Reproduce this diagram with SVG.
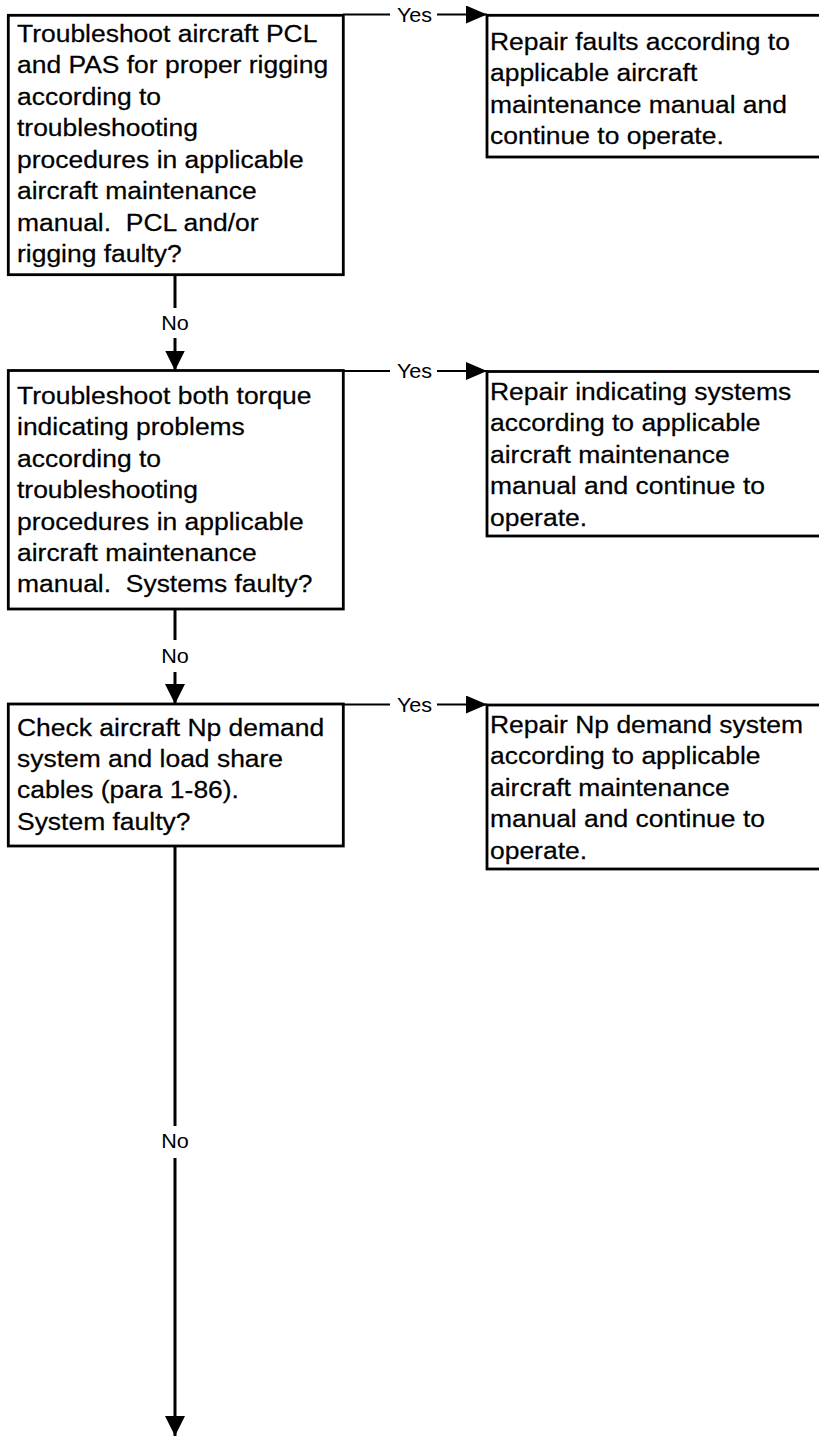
<svg xmlns="http://www.w3.org/2000/svg" width="819" height="1436" viewBox="0 0 819 1436">
  <style>
    .box { fill: #ffffff; stroke: #000000; stroke-width: 2.8; }
    .txt { font-family: "Liberation Sans", Arial, sans-serif; font-size: 24.5px; fill: #000000; stroke: #000000; stroke-width: 0.25; }
    .lbl { font-family: "Liberation Sans", Arial, sans-serif; font-size: 20px; fill: #000000; text-anchor: middle; }
    .down { stroke: #000000; stroke-width: 3; fill: none; }
    .yes { stroke: #000000; stroke-width: 2.2; fill: none; }
  </style>
  <defs>
    <marker id="arrowR" markerUnits="userSpaceOnUse" markerWidth="21" markerHeight="18" refX="21" refY="9" orient="0">
      <path d="M0,0 L21,9 L0,18 z" fill="#000000"/>
    </marker>
    <marker id="arrowD" markerUnits="userSpaceOnUse" markerWidth="20" markerHeight="20" refX="10" refY="20" orient="0">
      <path d="M0,0 L20,0 L10,20 z" fill="#000000"/>
    </marker>
  </defs>

  <rect width="819" height="1436" fill="#ffffff"/>

  <!-- connectors -->
  <g id="connectors">
    <!-- step 1 yes -->
    <path class="yes" d="M343,14.5 H390"/>
    <path class="yes" d="M437,14.5 H487" marker-end="url(#arrowR)"/>
    <text class="lbl" x="414.5" y="22" transform="translate(414.5 0) scale(1.08 1) translate(-414.5 0)">Yes</text>
    <!-- step 1 no -->
    <path class="down" d="M175,274.5 V308"/>
    <path class="down" d="M175,338 V370.5" marker-end="url(#arrowD)"/>
    <text class="lbl" x="175" y="330" transform="translate(175 0) scale(1.08 1) translate(-175 0)">No</text>

    <!-- step 2 yes -->
    <path class="yes" d="M343,371 H390"/>
    <path class="yes" d="M437,371 H487" marker-end="url(#arrowR)"/>
    <text class="lbl" x="414.5" y="378.5" transform="translate(414.5 0) scale(1.08 1) translate(-414.5 0)">Yes</text>
    <!-- step 2 no -->
    <path class="down" d="M175,609 V640"/>
    <path class="down" d="M175,672 V704" marker-end="url(#arrowD)"/>
    <text class="lbl" x="175" y="663" transform="translate(175 0) scale(1.08 1) translate(-175 0)">No</text>

    <!-- step 3 yes -->
    <path class="yes" d="M343,704.5 H390"/>
    <path class="yes" d="M437,704.5 H487" marker-end="url(#arrowR)"/>
    <text class="lbl" x="414.5" y="712" transform="translate(414.5 0) scale(1.08 1) translate(-414.5 0)">Yes</text>
    <!-- step 3 no -->
    <path class="down" d="M175,846 V1126"/>
    <path class="down" d="M175,1158 V1436" marker-end="url(#arrowD)"/>
    <text class="lbl" x="175" y="1148" transform="translate(175 0) scale(1.08 1) translate(-175 0)">No</text>
  </g>

  <!-- decision 1 -->
  <g id="check-pcl">
    <rect class="box" x="8.3" y="15.3" width="335" height="259.4"/>
    <text class="txt" transform="translate(17 42) scale(1.08 1)">
      <tspan x="0" y="0">Troubleshoot aircraft PCL</tspan>
      <tspan x="0" y="31.5">and PAS for proper rigging</tspan>
      <tspan x="0" y="63">according to</tspan>
      <tspan x="0" y="94.5">troubleshooting</tspan>
      <tspan x="0" y="126">procedures in applicable</tspan>
      <tspan x="0" y="157.5">aircraft maintenance</tspan>
      <tspan x="0" y="189">manual.&#160; PCL and/or</tspan>
      <tspan x="0" y="220.5">rigging faulty?</tspan>
    </text>
  </g>

  <!-- action 1 -->
  <g id="repair-faults">
    <rect class="box" x="487" y="15.3" width="340" height="141.7"/>
    <text class="txt" transform="translate(490 50) scale(1.08 1)">
      <tspan x="0" y="0">Repair faults according to</tspan>
      <tspan x="0" y="31.4">applicable aircraft</tspan>
      <tspan x="0" y="62.8">maintenance manual and</tspan>
      <tspan x="0" y="94.2">continue to operate.</tspan>
    </text>
  </g>

  <!-- decision 2 -->
  <g id="check-torque">
    <rect class="box" x="8.3" y="370.5" width="335" height="238.5"/>
    <text class="txt" transform="translate(17 404) scale(1.08 1)">
      <tspan x="0" y="0">Troubleshoot both torque</tspan>
      <tspan x="0" y="31.4">indicating problems</tspan>
      <tspan x="0" y="62.8">according to</tspan>
      <tspan x="0" y="94.2">troubleshooting</tspan>
      <tspan x="0" y="125.6">procedures in applicable</tspan>
      <tspan x="0" y="157">aircraft maintenance</tspan>
      <tspan x="0" y="188.4">manual.&#160; Systems faulty?</tspan>
    </text>
  </g>

  <!-- action 2 -->
  <g id="repair-indicating">
    <rect class="box" x="487" y="371.5" width="340" height="164.5"/>
    <text class="txt" transform="translate(490 400) scale(1.08 1)">
      <tspan x="0" y="0">Repair indicating systems</tspan>
      <tspan x="0" y="31.4">according to applicable</tspan>
      <tspan x="0" y="62.8">aircraft maintenance</tspan>
      <tspan x="0" y="94.2">manual and continue to</tspan>
      <tspan x="0" y="125.6">operate.</tspan>
    </text>
  </g>

  <!-- decision 3 -->
  <g id="check-np-demand">
    <rect class="box" x="8.3" y="704" width="335" height="142"/>
    <text class="txt" transform="translate(17 735.5) scale(1.08 1)">
      <tspan x="0" y="0">Check aircraft Np demand</tspan>
      <tspan x="0" y="31.4">system and load share</tspan>
      <tspan x="0" y="62.8">cables (para 1-86).</tspan>
      <tspan x="0" y="94.2">System faulty?</tspan>
    </text>
  </g>

  <!-- action 3 -->
  <g id="repair-np-demand">
    <rect class="box" x="487" y="705" width="340" height="164"/>
    <text class="txt" transform="translate(490 733) scale(1.08 1)">
      <tspan x="0" y="0">Repair Np demand system</tspan>
      <tspan x="0" y="31.4">according to applicable</tspan>
      <tspan x="0" y="62.8">aircraft maintenance</tspan>
      <tspan x="0" y="94.2">manual and continue to</tspan>
      <tspan x="0" y="125.6">operate.</tspan>
    </text>
  </g>
</svg>
